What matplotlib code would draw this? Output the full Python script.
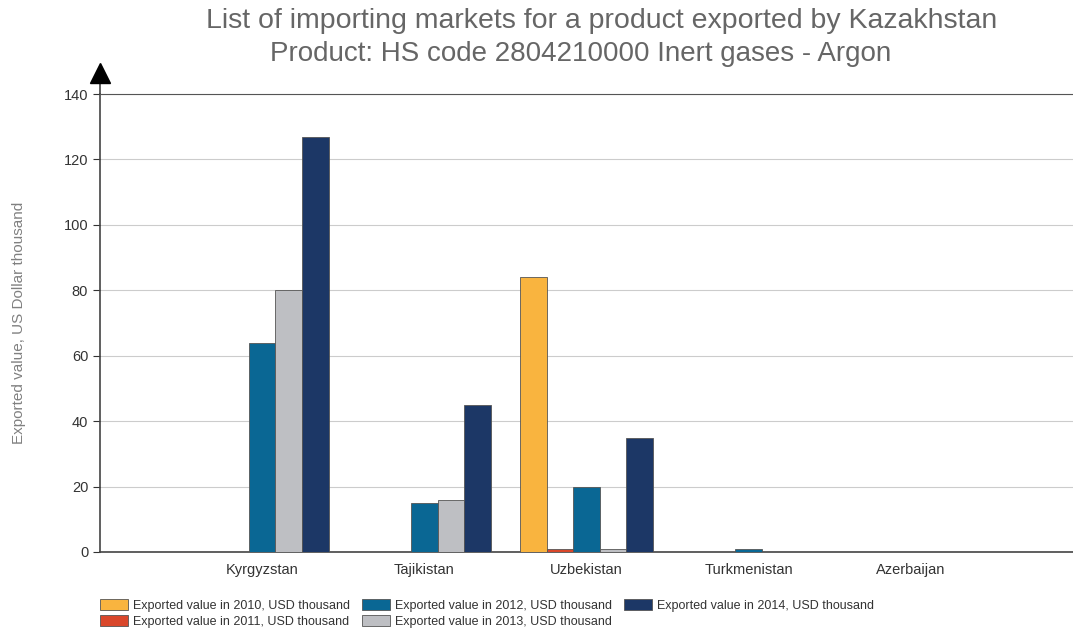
import matplotlib
matplotlib.use("Agg")
import matplotlib.pyplot as plt
import numpy as np

plt.rcParams['font.family'] = ['Liberation Sans', 'DejaVu Sans']

# dados
paises = ["Kyrgyzstan", "Tajikistan", "Uzbekistan", "Turkmenistan", "Azerbaijan"]
anos = ["2010", "2011", "2012", "2013", "2014"]
v2010 = [0, 0, 84, 0, 0]
v2011 = [0, 0, 1, 0, 0]
v2012 = [64, 15, 20, 1, 0]
v2013 = [80, 16, 1, 0, 0]
v2014 = [127, 45, 35, 0, 0]
cores = ["#F9B43F", "#D9472B", "#0A6794", "#BEBFC3", "#1C3766"]

series = [v2010, v2011, v2012, v2013, v2014]

fig = plt.figure(figsize=(10.73, 6.31), dpi=100)
ax = fig.add_axes([0.0932, 0.1252, 0.9068, 0.7258])

x = np.arange(len(paises))
largura = 0.164
for i, (vals, ano) in enumerate(zip(series, anos)):
    ax.bar(x + (i - 2) * largura, vals, largura, color=cores[i],
           edgecolor="#555555", linewidth=0.6,
           label="Exported value in %s, USD thousand" % ano, zorder=3)

ax.set_xlim(-1, 5)
ax.set_ylim(0, 140)
ax.set_yticks(range(0, 141, 20))
ax.set_xticks(x)
ax.set_xticklabels(paises, fontsize=10.5, color="#333333")
ax.tick_params(axis="x", length=0, pad=8)
ax.tick_params(axis="y", labelsize=10.5, labelcolor="#333333", length=5, color="#333333")

# linhas do grid
ax.grid(axis="y", color="#cccccc", linewidth=0.8, zorder=0)
ax.spines["right"].set_visible(False)
ax.spines["top"].set_color("#555555")
ax.spines["left"].set_color("#444444")
ax.spines["bottom"].set_color("#444444")
ax.spines["left"].set_linewidth(1.2)
ax.spines["bottom"].set_linewidth(1.2)

# seta no topo do eixo
ax.plot([0, 0], [1.0, 1.03], transform=ax.transAxes, color="#444444", lw=1.2, clip_on=False)
ax.plot([0], [1.045], transform=ax.transAxes, marker="^", markersize=15,
        color="black", clip_on=False)

ax.set_ylabel("Exported value, US Dollar thousand", fontsize=11, color="#808080")
ax.yaxis.set_label_coords(-0.076, 0.5)

fig.text(0.561, 0.966, "List of importing markets for a product exported by Kazakhstan",
         ha="center", va="center", fontsize=20.5, color="#666666")
fig.text(0.541, 0.914, "Product: HS code 2804210000 Inert gases - Argon",
         ha="center", va="center", fontsize=20, color="#666666")

ax.legend(loc="upper left", bbox_to_anchor=(-0.005, -0.091), ncol=3, frameon=False,
          fontsize=9, handlelength=2.2, handleheight=1.0, columnspacing=1.0,
          labelspacing=0.3, borderaxespad=0, handletextpad=0.4,
          labelcolor="#333333")

fig.savefig("out.png", dpi=100)
